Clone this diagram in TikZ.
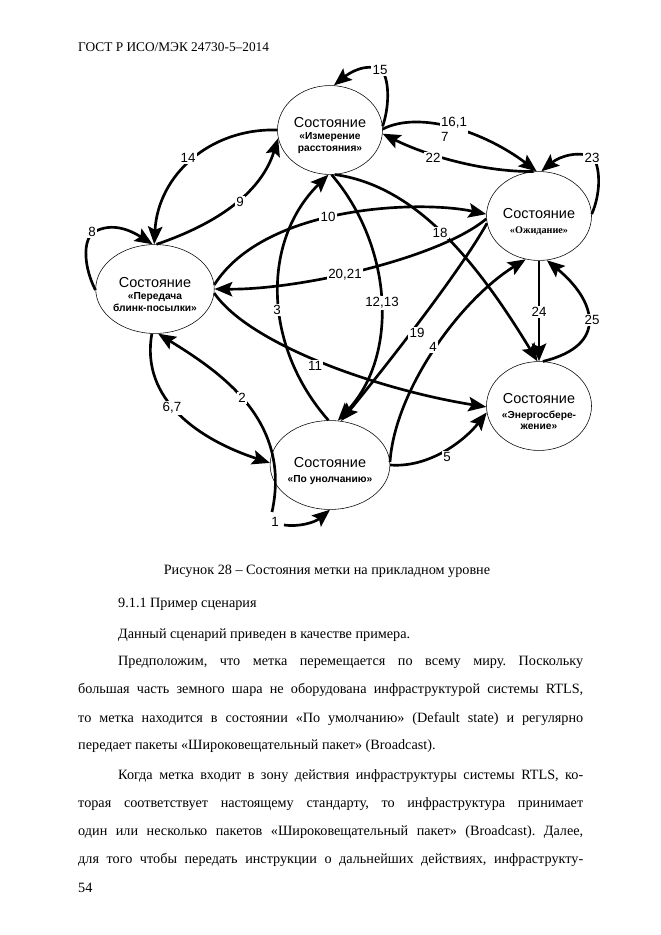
\documentclass[tikz,border=0pt]{standalone}
\usepackage{fontspec}
\setmainfont{Liberation Serif}
\newfontfamily\diagfont{Liberation Sans}
\usetikzlibrary{shapes.geometric,arrows.meta}
\newcommand{\stname}[1]{{\mdseries\fontsize{13}{14}\selectfont\rule{0pt}{19pt}#1}}
\frenchspacing

\begin{document}
\begin{tikzpicture}[x=0.9pt,y=-0.9pt,
  state/.style={draw,ellipse,line width=0.5pt,minimum width=94.5pt,minimum height=80pt,inner sep=0pt,align=center,font=\diagfont\bfseries\fontsize{9.2}{10.5}\selectfont},
  trans/.style={line width=2.4pt,-{Stealth[length=16pt,width=13pt,inset=3pt]}},
  num/.style={fill=white,inner sep=1pt,font=\diagfont\fontsize{12}{13.5}\selectfont},
  txt/.style={anchor=base west,inner sep=0pt,font=\fontsize{12.8}{15}\selectfont}]
\path[fill=white] (0,0) rectangle (661,935);
\useasboundingbox (0,0) rectangle (661,935);

% States
\node[state] (M) at (330,130) {\stname{Состояние}\\«Измерение\\расстояния»};
\node[state] (W) at (539,216) {\stname{Состояние}\\[3pt]{\rmfamily «Ожидание»}};
\node[state] (B) at (155,289) {\stname{Состояние}\\«Передача\\блинк-посылки»};
\node[state] (E) at (539,406) {\stname{Состояние}\\[3pt]«Энергосбере-\\жение»};
\node[state] (D) at (330,465) {\stname{Состояние}\\[3pt]«По унолчанию»};
\coordinate (s1) at (284,525);
\coordinate (s2) at (272,512);

%Curve Lines 1
\draw[trans] (s1) .. controls (298,527) and (314,523) .. (D.-90);
%Curve Lines 2
\draw[trans] (s2) .. controls (292,420) and (220,372) .. (B.-86);
%Curve Lines 6,7
\draw[trans] (B.-94) .. controls (140,400) and (200,440) .. (D.178);
%Curve Lines 8
\draw[trans] (B.181) .. controls (84,268) and (82,240) .. (94,232) .. controls (112,222) and (130,230) .. (B.93);
%Curve Lines 9
\draw[trans] (B.88) .. controls (222,222) and (262,190) .. (M.189);
%Curve Lines 14
\draw[trans] (M.180) .. controls (210,128) and (158,175) .. (B.91);
%Curve Lines 10
\draw[trans] (B.4) .. controls (265,205) and (420,200) .. (W.178);
%Curve Lines 20,21
\draw[trans] (W.183) .. controls (440,258) and (300,290) .. (B.0);
%Curve Lines 11
\draw[trans] (B.-4) .. controls (250,345) and (380,390) .. (E.181);
%Curve Lines 3
\draw[trans] (D.92) .. controls (262,345) and (262,240) .. (M.-92);
%Curve Lines 12,13
\draw[trans] (M.-88) .. controls (392,245) and (400,355) .. (D.80);
%Curve Lines 18
\draw[trans] (M.-84) .. controls (410,185) and (470,250) .. (E.92);
%Curve Lines 19
\draw[trans] (W.188) .. controls (462,268) and (395,355) .. (D.76);
%Straight Lines 24
\draw[trans] (W.-90) -- (E.90);
%Curve Lines 25
\draw[trans] (E.85) .. controls (610,345) and (595,300) .. (W.-80);
%Curve Lines 4
\draw[trans] (D.3) .. controls (395,390) and (460,300) .. (W.-107);
%Curve Lines 5
\draw[trans] (D.0) .. controls (430,468) and (465,440) .. (E.187);
%Curve Lines 15
\draw[trans] (M.4) .. controls (389,108) and (390,82) .. (382,70) .. controls (365,62) and (348,74) .. (M.85);
%Curve Lines 16,17
\draw[trans] (M.1) .. controls (420,110) and (485,132) .. (W.93);
%Curve Lines 22
\draw[trans] (W.97) .. controls (480,172) and (423,154) .. (M.-4);
%Curve Lines 23
\draw[trans] (W.2) .. controls (600,195) and (601,172) .. (594,158) .. controls (580,150) and (560,156) .. (W.87);

% Text Node
\node[num] (l1) at (275,522) {1};
\node[num] (l2) at (242,398) {2};
\node[num] (l3) at (277,310) {3};
\node[num] (l4) at (433,347) {4};
\node[num] (l5) at (447,457) {5};
\node[num] (l67) at (172,408) {6,7};
\node[num] (l8) at (92,232) {8};
\node[num] (l9) at (240,202) {9};
\node[num] (l10) at (328,217) {10};
\node[num] (l11) at (315,366) {11};
\node[num] (l1213) at (382,303) {12,13};
\node[num] (l14) at (188,158) {14};
\node[num] (l15) at (380,70) {15};
\node[num,align=left] (l1617) at (454,129) {16,1\\7};
\node[num] (l18) at (440,233) {18};
\node[num] (l19) at (417,333) {19};
\node[num] (l2021) at (345,275) {20,21};
\node[num] (l22) at (433,158) {22};
\node[num] (l23) at (592,158) {23};
\node[num] (l24) at (539,312) {24};
\node[num] (l25) at (592,320) {25};

% Page text
\node[txt,font=\fontsize{12}{14}\selectfont] (hdr) at (78,51.5) {ГОСТ Р ИСО/МЭК 24730-5–2014};
\node[txt,anchor=base] (cap) at (327,574) {Рисунок 28 – Состояния метки на прикладном уровне};
\node[txt] (sec) at (118,607) {9.1.1 Пример сценария};
\node[txt] (p1) at (118,638) {Данный сценарий приведен в качестве примера.};
\node[txt] (p2a) at (118,665) {\makebox[418.5pt][s]{Предположим, что метка перемещается по всему миру. Поскольку}};
\node[txt] (p2b) at (78,693) {\makebox[454.5pt][s]{большая часть земного шара не оборудована инфраструктурой системы RTLS,}};
\node[txt] (p2c) at (78,722) {\makebox[454.5pt][s]{то метка находится в состоянии «По умолчанию» (Default state) и регулярно}};
\node[txt] (p2d) at (78,749) {передает пакеты «Широковещательный пакет» (Broadcast).};
\node[txt] (p3a) at (118,779) {\makebox[418.5pt][s]{Когда метка входит в зону действия инфраструктуры системы RTLS, ко-}};
\node[txt] (p3b) at (78,807) {\makebox[454.5pt][s]{торая соответствует настоящему стандарту, то инфраструктура принимает}};
\node[txt] (p3c) at (78,835) {\makebox[454.5pt][s]{один или несколько пакетов «Широковещательный пакет» (Broadcast). Далее,}};
\node[txt] (p3d) at (78,863) {\makebox[454.5pt][s]{для того чтобы передать инструкции о дальнейших действиях, инфраструкту-}};
\node[txt] (pg) at (78,892) {54};

\end{tikzpicture}
\end{document}
